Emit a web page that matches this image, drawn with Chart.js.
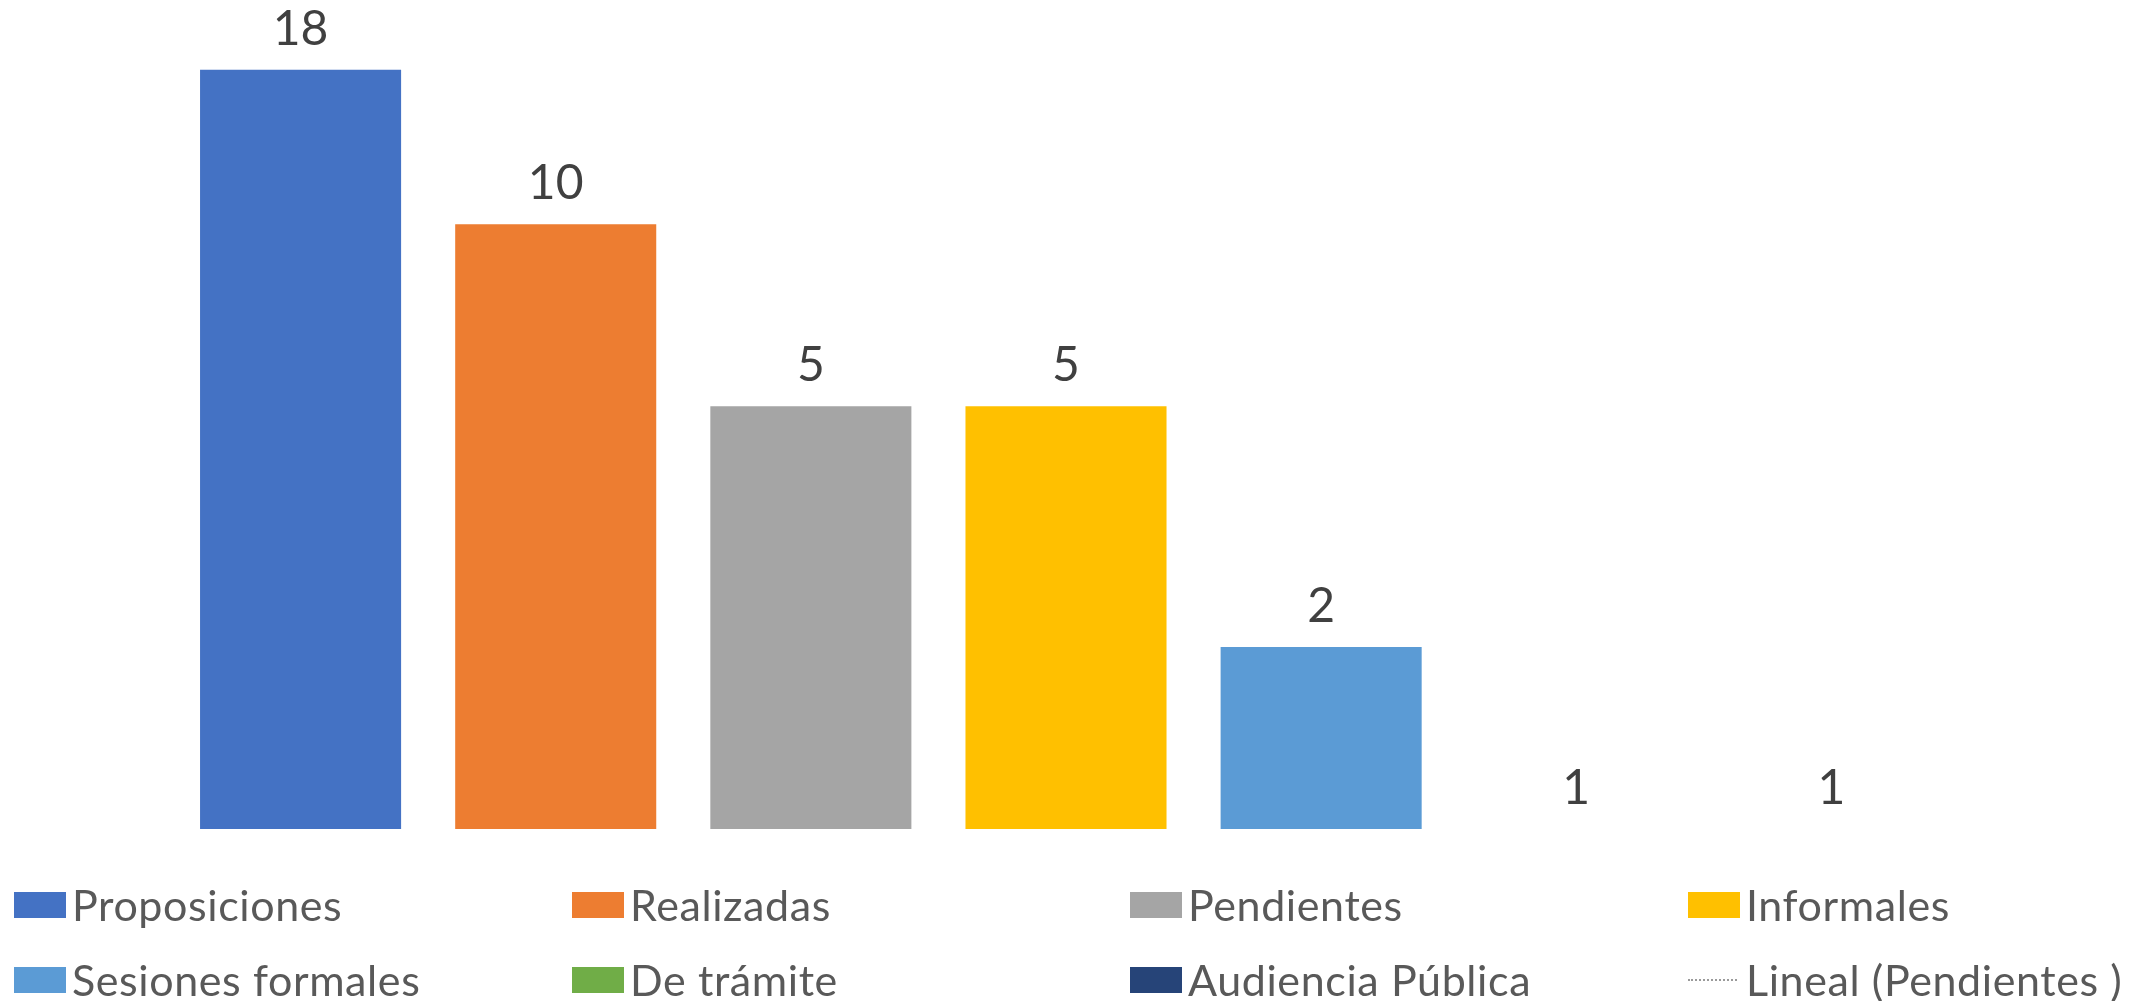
<!DOCTYPE html>
<html>
<head>
<meta charset="utf-8">
<script src="https://cdn.jsdelivr.net/npm/chart.js@4"></script>
<style>
  html, body { margin: 0; padding: 0; background: #fff; }
  #wrap { position: relative; width: 2141px; height: 1001px; }
  #chartBox { position: absolute; left: 0; top: 0; width: 2141px; height: 850px; }
  #legend { position: absolute; left: 0; top: 0; width: 2141px; height: 1001px; pointer-events: none; }
  .item { position: absolute; height: 40px; font-family: Lato, "Open Sans", sans-serif; font-size: 43px; letter-spacing: 0.6px; color: #595959; white-space: nowrap; line-height: 40px; }
  .item .sw { position: absolute; left: 0; top: 7px; width: 52px; height: 26px; }
  .item .ln { position: absolute; left: 0; top: 19px; width: 49px; height: 0; border-top: 2px dotted #9a9a9a; }
  .item span.t { position: absolute; left: 58px; top: 0; }
</style>
</head>
<body>
<div id="wrap">
  <div id="chartBox"><canvas id="grafico"></canvas></div>
  <div id="legend"></div>
</div>
<script>
// categorias e valores
const categorias = ['Proposiciones', 'Realizadas', 'Pendientes', 'Informales', 'Sesiones formales', 'De trámite', 'Audiencia Pública'];
const valores = [18, 10, 5, 5, 2, 1, 1];
const cores = ['#4472C4', '#ED7D31', '#A5A5A5', '#FFC000', '#5B9BD5', '#70AD47', '#264478'];
const tendenciaLabel = 'Lineal (Pendientes )';

// um dataset por categoria, para que cada barra tenha sua entrada na legenda
const datasets = categorias.map((nome, i) => ({
    type: 'bar',
    label: nome,
    data: categorias.map((c, j) => (j === i ? valores[i] : null)),
    backgroundColor: cores[i],
    borderWidth: 0,
    grouped: false,
    barPercentage: 0.788,
    categoryPercentage: 1
}));

// linha de tendência (só aparece na legenda)
datasets.push({
    type: 'line',
    label: tendenciaLabel,
    data: categorias.map(() => null),
    borderColor: '#9a9a9a',
    borderDash: [2, 3],
    borderWidth: 2,
    pointRadius: 0
});

// Plugin para escrever os valores acima das barras
const rotulosPlugin = {
    id: 'rotulos',
    afterDatasetsDraw(chart) {
        const ctx = chart.ctx;
        ctx.save();
        ctx.font = '48px Lato, "Open Sans", sans-serif';
        ctx.fillStyle = '#404040';
        ctx.textAlign = 'center';
        ctx.textBaseline = 'alphabetic';
        chart.data.datasets.forEach((ds, i) => {
            if (ds.type !== 'bar') return;
            const meta = chart.getDatasetMeta(i);
            meta.data.forEach((el, j) => {
                const v = ds.data[j];
                if (v === null) return;
                ctx.fillText(String(v), el.x, el.y - 25);
            });
        });
        ctx.restore();
    }
};

const ctx = document.getElementById('grafico').getContext('2d');
const grafico = new Chart(ctx, {
    data: {
        labels: categorias,
        datasets: datasets
    },
    options: {
        responsive: true,
        maintainAspectRatio: false,
        animation: false,
        layout: { padding: { left: 173, right: 182, top: 10, bottom: 21 } },
        scales: {
            x: { display: false, offset: true, grid: { display: false } },
            y: {
                type: 'logarithmic',
                display: false,
                min: 1,
                max: 22.6,
                bounds: 'data'
            }
        },
        plugins: {
            legend: { display: false },
            tooltip: { enabled: false }
        }
    },
    plugins: [rotulosPlugin]
});

// Legenda em HTML, 4 colunas x 2 linhas
function montarLegenda(chart) {
    const box = document.getElementById('legend');
    box.innerHTML = '';
    const colunas = [14, 572, 1130, 1688];
    const linhas = [885, 960];
    chart.data.datasets.forEach((ds, i) => {
        const item = document.createElement('div');
        item.className = 'item';
        item.style.left = colunas[i % 4] + 'px';
        item.style.top = linhas[Math.floor(i / 4)] + 'px';
        const marca = document.createElement('div');
        if (ds.type === 'line') {
            marca.className = 'ln';
        } else {
            marca.className = 'sw';
            marca.style.background = ds.backgroundColor;
        }
        const texto = document.createElement('span');
        texto.className = 't';
        texto.textContent = ds.label;
        item.appendChild(marca);
        item.appendChild(texto);
        box.appendChild(item);
    });
}
montarLegenda(grafico);
</script>
</body>
</html>
